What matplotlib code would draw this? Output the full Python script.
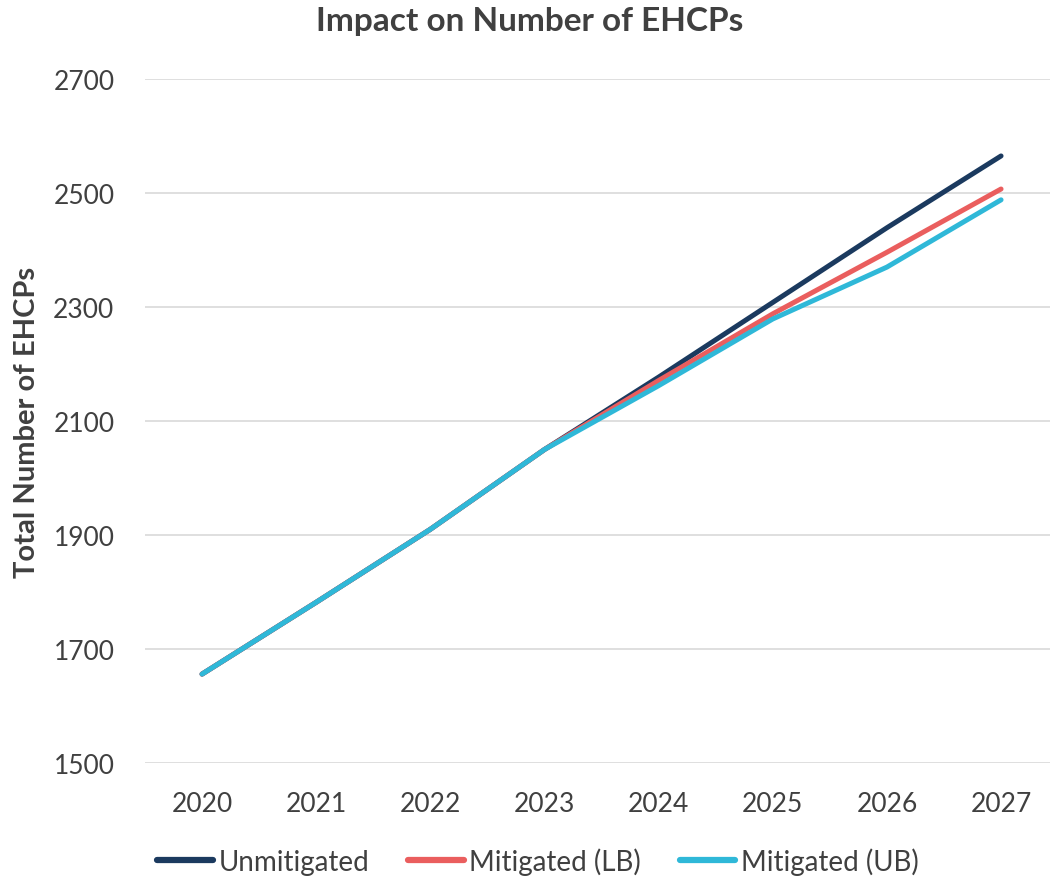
import matplotlib
matplotlib.use("Agg")
import matplotlib.pyplot as plt

years = [2020, 2021, 2022, 2023, 2024, 2025, 2026, 2027]
unmitigated = [1656, 1782, 1910, 2050, 2177, 2308, 2439, 2565]
mitigated_lb = [1656, 1782, 1910, 2050, 2171, 2288, 2396, 2507]
mitigated_ub = [1656, 1782, 1910, 2050, 2162, 2279, 2370, 2488]
yticks = [1500, 1700, 1900, 2100, 2300, 2500, 2700]

plt.rcParams['font.family'] = ['Lato', 'DejaVu Sans']
text_color = '#404040'

W, H = 1051, 879
fig = plt.figure(figsize=(W / 100, H / 100), dpi=100)
ax = fig.add_axes([145 / W, 1 - 764 / H, 905 / W, (764 - 80) / H])

ax.plot(years, unmitigated, color='#1b3a5f', lw=3.6, solid_capstyle='round', label='Unmitigated', zorder=3)
ax.plot(years, mitigated_lb, color='#ea5e5e', lw=3.6, solid_capstyle='round', label='Mitigated (LB)', zorder=4)
ax.plot(years, mitigated_ub, color='#2fb8d8', lw=3.6, solid_capstyle='round', label='Mitigated (UB)', zorder=5)

ax.set_xlim(2019.5, 2019.5 + 905 / 114.14)
ax.set_ylim(1500, 2700)
ax.set_yticks(yticks)
ax.set_xticks(years)
ax.grid(axis='y', color='#d9d9d9', lw=1.2)
ax.set_axisbelow(True)
for s in ax.spines.values():
    s.set_visible(False)
ax.tick_params(axis='both', length=0, labelsize=19, colors=text_color)
ax.tick_params(axis='y', pad=22)
ax.tick_params(axis='x', pad=20)

ax.set_ylabel('Total Number of EHCPs', fontsize=21, fontweight='bold', color=text_color)
ax.yaxis.set_label_coords(-105 / 905, 0.5)

fig.text(530 / W, 1 - 22 / H, 'Impact on Number of EHCPs', ha='center', va='center',
         fontsize=24, fontweight='bold', color=text_color)

leg = fig.legend(loc='center', bbox_to_anchor=(538 / W, 1 - 862 / H), ncol=3, frameon=False,
                 fontsize=20, handlelength=2.0, handletextpad=0.2, columnspacing=1.4,
                 labelcolor=text_color)
for line in leg.get_lines():
    line.set_linewidth(4.5)

fig.savefig('out.png', dpi=100)
